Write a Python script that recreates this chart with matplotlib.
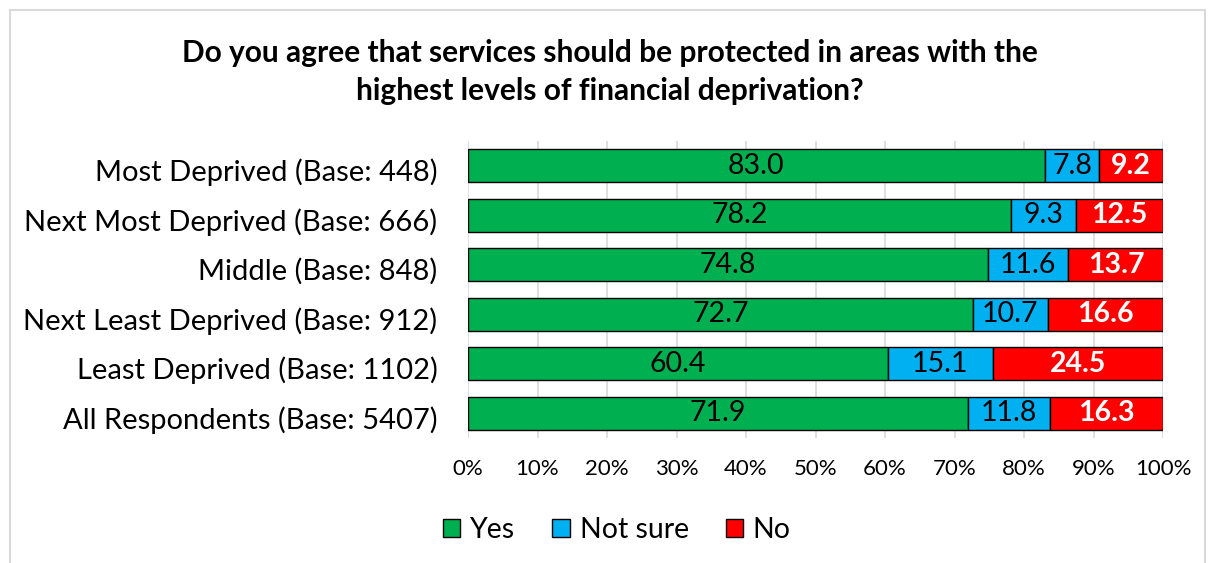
import matplotlib
matplotlib.use("Agg")
import matplotlib.pyplot as plt
from matplotlib.patches import Rectangle
import matplotlib.transforms as mtransforms
import numpy as np

categories = ["Most Deprived (Base: 448)", "Next Most Deprived (Base: 666)",
              "Middle (Base: 848)", "Next Least Deprived (Base: 912)",
              "Least Deprived (Base: 1102)", "All Respondents (Base: 5407)"]
yes = [83.0, 78.2, 74.8, 72.7, 60.4, 71.9]
not_sure = [7.8, 9.3, 11.6, 10.7, 15.1, 11.8]
no = [9.2, 12.5, 13.7, 16.6, 24.5, 16.3]
series_names = ["Yes", "Not sure", "No"]
colors = ["#00B050", "#00B0F0", "#FF0000"]
title = "Do you agree that services should be protected in areas with the\nhighest levels of financial deprivation?"

plt.rcParams['font.family'] = ['Lato', 'DejaVu Sans']

fig = plt.figure(figsize=(12.13, 5.63), dpi=100)
fig.patches.append(Rectangle((10/1213, -0.01), 1195/1213, 1 - 10/563 + 0.01,
                             transform=fig.transFigure, fill=False,
                             edgecolor="#D9D9D9", linewidth=1.5))
ax = fig.add_axes([468/1213, 1 - 438/563, 695/1213, 297/563])

y = np.arange(len(categories))
left = np.zeros(len(categories))
data = [yes, not_sure, no]
for i, (vals, c, name) in enumerate(zip(data, colors, series_names)):
    vals = np.array(vals)
    ax.barh(y, vals, left=left, height=0.67, color=c, edgecolor="black",
            linewidth=1, label=name, zorder=3)
    for yi, l, v in zip(y, left, vals):
        if i == 2:
            ax.text(l + v / 2, yi, f"{v:.1f}", ha="center", va="center",
                    color="white", fontweight="bold", fontsize=20.5, zorder=4)
        else:
            ax.text(l + v / 2, yi, f"{v:.1f}", ha="center", va="center",
                    color="black", fontsize=20.5, zorder=4)
    left = left + vals

ax.set_xlim(0, 100)
ax.set_ylim(len(categories) - 0.5, -0.5)
ax.set_yticks(y)
ax.set_yticklabels(categories, fontsize=21)
ax.set_xticks(np.arange(0, 101, 10))
ax.set_xticklabels([f"{t}%" for t in range(0, 101, 10)], fontsize=16)
ax.tick_params(axis="y", length=0, pad=22)
ax.tick_params(axis="x", length=0, pad=15)
ax.grid(axis="x", color="#D9D9D9", linewidth=1.2, zorder=0)
for s in ax.spines.values():
    s.set_visible(False)
offset = mtransforms.ScaledTranslation(0, -4/100, fig.dpi_scale_trans)
for lab in ax.get_yticklabels():
    lab.set_transform(lab.get_transform() + offset)

fig.text(0.503, 1 - 72/563, title, ha="center", va="center", fontsize=21.5,
         fontweight="bold", linespacing=1.45)

handles = [Rectangle((0, 0), 1, 1, facecolor=c, edgecolor="black", linewidth=1) for c in colors]
fig.legend(handles, series_names, loc="center", bbox_to_anchor=(617/1213, 1 - 530/563),
           ncol=3, frameon=False, fontsize=20.5, handlelength=0.6, handleheight=0.6,
           handletextpad=0.35, columnspacing=1.3)

fig.savefig("out.png", dpi=100)
